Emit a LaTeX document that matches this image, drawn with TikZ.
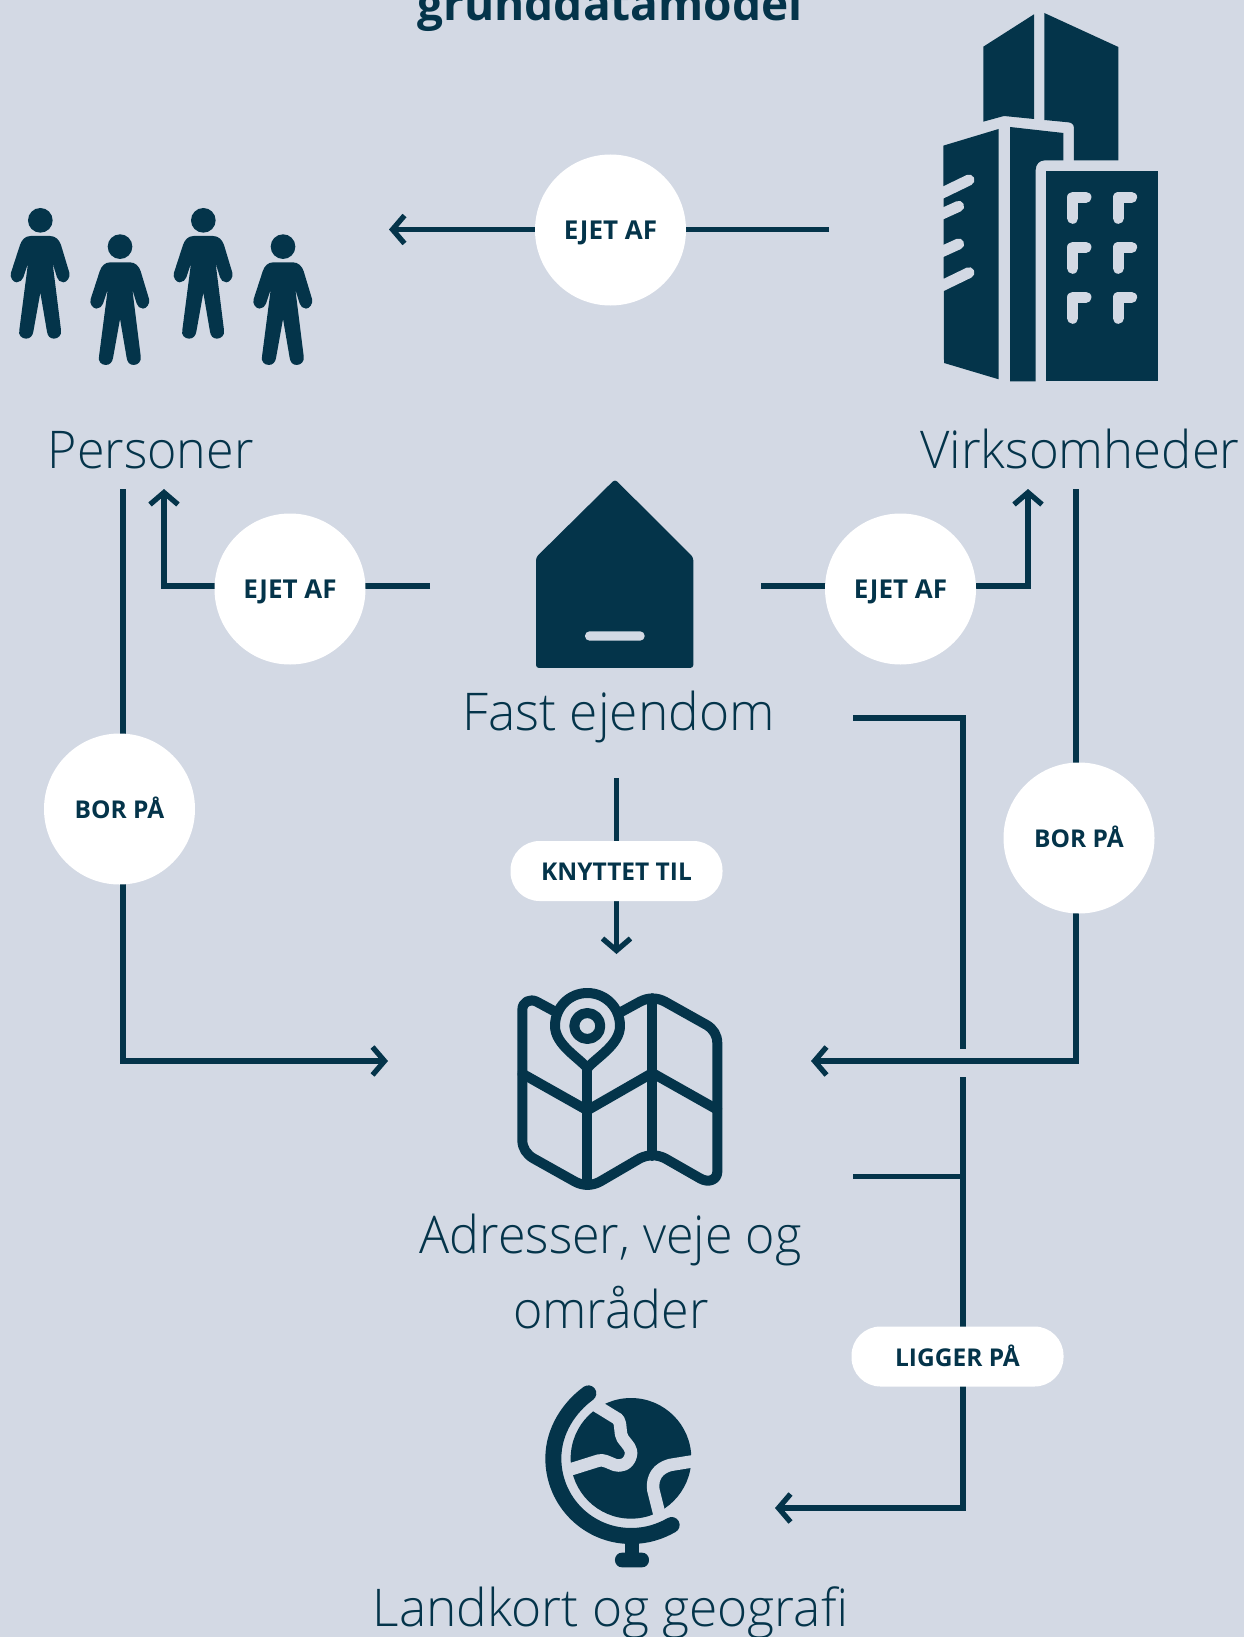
\documentclass[tikz,border=0pt]{standalone}
\usepackage{fontspec}
\usetikzlibrary{arrows.meta}
\setmainfont{Open Sans}
\newfontfamily\lightf[FakeStretch=0.99]{Open Sans Light}
\newfontfamily\lightn[FakeStretch=0.965]{Open Sans Light}
\newfontfamily\lightm[FakeStretch=0.978]{Open Sans Light}
\newfontfamily\boldf{Open Sans Bold}
\definecolor{bgc}{HTML}{D3D9E4}
\definecolor{ink}{HTML}{04344A}
\tikzset{
 conn/.style={draw=ink,line width=5.3pt,line cap=butt,line join=miter},
 arr/.style={conn,-{Straight Barb[length=12pt,width=28pt,line width=5.3pt]}},
 bubble/.style={circle,fill=white,minimum size=151pt,inner sep=0pt,text=ink,text height=19.5pt,text depth=0pt,font=\boldf\fontsize{24.5}{26}\selectfont},
 pill/.style={rounded corners=29pt,fill=white,inner sep=0pt,minimum width=212pt,minimum height=60pt,text=ink,text height=19.5pt,text depth=0pt,font=\boldf\fontsize{24.5}{26}\selectfont},
 big/.style={inner sep=0pt,text=ink,anchor=base,font=\lightf\fontsize{52}{60}\selectfont},
 bign/.style={big,font=\lightn\fontsize{52}{60}\selectfont},
 bigm/.style={big,font=\lightm\fontsize{52}{60}\selectfont},
 zoomed/.style={x=0.3333pt,y=-0.3333pt},
 cutline/.style={draw=bgc,line cap=round,line join=round},
 mapline/.style={draw=ink,line width=10pt,line join=round,line cap=round},
}
\newcommand{\personfig}[2]{%
 \begin{scope}[zoomed,xshift=#1pt,yshift=-#2pt]
 \fill[ink] (121,91) circle[radius=37];
 \fill[ink] (92,138) -- (150,138) .. controls (167,138) and (178,150) .. (183,165) -- (208,248)
  .. controls (212,262) and (200,277) .. (190,277) .. controls (180,277) and (174,270) .. (171,262) -- (158,220)
  -- (183,420) .. controls (186,435) and (175,446) .. (162,446) .. controls (150,446) and (143,438) .. (141,425)
  -- (121,308) -- (100,425) .. controls (98,438) and (90,446) .. (78,446) .. controls (65,446) and (54,435) .. (58,420)
  -- (84,220) -- (70,262) .. controls (67,270) and (60,277) .. (50,277) .. controls (40,277) and (28,262) .. (33,248)
  -- (60,165) .. controls (65,150) and (75,138) .. (92,138) -- cycle;
 \end{scope}}
\begin{document}
\begin{tikzpicture}[x=1pt,y=-1pt]
\useasboundingbox (0,0) rectangle (1244,1637);
\clip (0,0) rectangle (1244,1637);
\fill[bgc] (0,0) rectangle (1244,1637);
% title
\node[big,font=\boldf\fontsize{46}{50}\selectfont] (title) at (610,20.5) {grunddatamodel};
% people
\personfig{0}{190}
\personfig{79.7}{216.3}
\personfig{163}{190}
\personfig{242.7}{216.3}
% building
\begin{scope}[zoomed,xshift=900pt]
 \fill[ink] (250,140) -- (402,43) -- (402,357) -- (312,348) -- (250,365) -- cycle;
 \fill[ink] (433,39) -- (655,141) -- (655,481) -- (522,481) -- (522,385) .. controls (522,373) and (515,368) .. (505,367) -- (433,360) -- cycle;
 \fill[ink] (130,437) -- (296,387) -- (296,1138) -- (132,1089) -- cycle;
 \fill[ink] (330,381) -- (490,399) -- (490,481) -- (435,481) .. controls (418,481) and (407,493) .. (407,510) -- (407,1144) -- (330,1144) -- cycle;
 \fill[ink] (439,514) -- (775,514) -- (775,1144) -- (439,1144) -- cycle;
 \begin{scope}[cutline,line width=11pt]
  \foreach \wy in {592,742,892}{
   \foreach \wx in {518,655}{
    \draw (\wx,\wy+63) -- (\wx,\wy) -- (\wx+40,\wy);
   }}
  \draw (110,587) -- (207,540);
  \draw (110,649) -- (176,619);
  \draw (110,762) -- (176,732);
  \draw (110,865) -- (207,818);
 \end{scope}
\end{scope}
% house
\begin{scope}[zoomed,xshift=510pt,yshift=-470pt]
 \fill[ink,rounded corners=3pt] (315,28) -- (550,262) -- (550,594) -- (78,594) -- (78,262) -- cycle;
 \fill[bgc,rounded corners=4.5pt] (225,484) rectangle (404,512);
\end{scope}
% map
\begin{scope}[zoomed,xshift=500pt,yshift=-970pt]
 \draw[mapline] (160,122) -- (110,95) .. controls (90,85) and (67,95) .. (67,120) -- (67,510)
  .. controls (67,535) and (80,553) .. (100,565) -- (225,635) .. controls (250,648) and (275,648) .. (300,635)
  -- (420,565) .. controls (445,553) and (470,553) .. (495,565) -- (600,625) .. controls (625,640) and (652,630) .. (652,605)
  -- (652,220) .. controls (652,195) and (640,177) .. (620,165) -- (495,95) .. controls (470,82) and (445,82) .. (420,95) -- (365,125);
 \draw[mapline] (262,300) -- (262,645);
 \draw[mapline] (457,85) -- (457,558);
 \draw[mapline] (67,311) -- (262,421) -- (457,309) -- (652,419);
 \draw[mapline] (262,295) .. controls (240,265) and (165,225) .. (165,168) .. controls (165,112) and (208,69) .. (262,69)
  .. controls (316,69) and (360,112) .. (360,168) .. controls (360,225) and (285,265) .. (262,295) -- cycle;
 \draw[mapline] (262,168) circle[radius=39];
\end{scope}
% globe
\begin{scope}[zoomed,xshift=520pt,yshift=-1370pt]
 \fill[ink] (333,265) circle[radius=181];
 \draw[cutline,line width=12.5pt] (225,105) -- (295,148) .. controls (305,165) and (298,190) .. (308,205)
   .. controls (322,225) and (338,235) .. (332,258) .. controls (325,285) and (300,290) .. (285,285) .. controls (260,275) and (250,268) .. (235,272) -- (130,305);
 \draw[cutline,line width=12.5pt] (530,272) -- (450,285) .. controls (415,295) and (395,320) .. (400,360) -- (420,440);
 \draw[draw=ink,line width=16pt,line cap=round] (205,70) .. controls (150,110) and (100,180) .. (100,265)
  .. controls (100,395) and (205,498) .. (333,498) .. controls (380,498) and (420,485) .. (455,465);
 \fill[ink] (314,495) rectangle (358,565);
 \fill[ink,rounded corners=7pt] (285,548) rectangle (387,592);
\end{scope}
% labels
\node[bign,anchor=base west] (personer) at (47.5,468.5) {Personer};
\node[bigm,anchor=base west] (virk) at (920,468.5) {Virksomheder};
\node[big] (fast) at (618.5,730) {Fast ejendom};
\node[bign] (adr) at (610.5,1253) {Adresser, veje og};
\node[bign] (omr) at (611,1328) {områder};
\node[big] (land) at (610.5,1626) {Landkort og geografi};
% connector anchors
\coordinate (c1a) at (829,229.5);
\coordinate (c1b) at (389,229.5);
\coordinate (c2a) at (430,586);
\coordinate (c2m) at (164,586);
\coordinate (c2b) at (164,489);
\coordinate (c3a) at (761,586);
\coordinate (c3m) at (1028,586);
\coordinate (c3b) at (1028,489);
\coordinate (c4a) at (123,489);
\coordinate (c4m) at (123,1061);
\coordinate (c4b) at (388,1061);
\coordinate (c5a) at (1076,489);
\coordinate (c5m) at (1076,1061);
\coordinate (c5b) at (811,1061);
\coordinate (c6a) at (616.5,778);
\coordinate (c6b) at (616.5,954);
\coordinate (c7a) at (853,718);
\coordinate (c7m) at (963,718);
\coordinate (c7b) at (963,1049);
\coordinate (c8a) at (963,1077);
\coordinate (c8m) at (963,1508);
\coordinate (c8b) at (775,1508);
\coordinate (c9a) at (853,1176.5);
\coordinate (c9b) at (963,1176.5);
\draw[arr] (c1a) -- (c1b);
\draw[arr] (c2a) -- (c2m) -- (c2b);
\draw[arr] (c3a) -- (c3m) -- (c3b);
\draw[arr] (c4a) -- (c4m) -- (c4b);
\draw[arr] (c5a) -- (c5m) -- (c5b);
\draw[arr] (c6a) -- (c6b);
\draw[conn] (c7a) -- (c7m) -- (c7b);
\draw[arr] (c8a) -- (c8m) -- (c8b);
\draw[conn] (c9a) -- (c9b);
% bubbles
\node[bubble,font=\boldf\fontsize{26}{28}\selectfont] (b1) at (610.5,230) {EJET AF};
\node[bubble,font=\boldf\fontsize{26}{28}\selectfont] (b2) at (290,589) {EJET AF};
\node[bubble,font=\boldf\fontsize{26}{28}\selectfont] (b3) at (900.5,589) {EJET AF};
\node[bubble] (b4) at (119.5,809) {BOR PÅ};
\node[bubble] (b5) at (1079,838) {BOR PÅ};
\node[pill] (p1) at (616.5,871) {KNYTTET TIL};
\node[pill] (p2) at (957.5,1356.5) {LIGGER PÅ};
\end{tikzpicture}
\end{document}
